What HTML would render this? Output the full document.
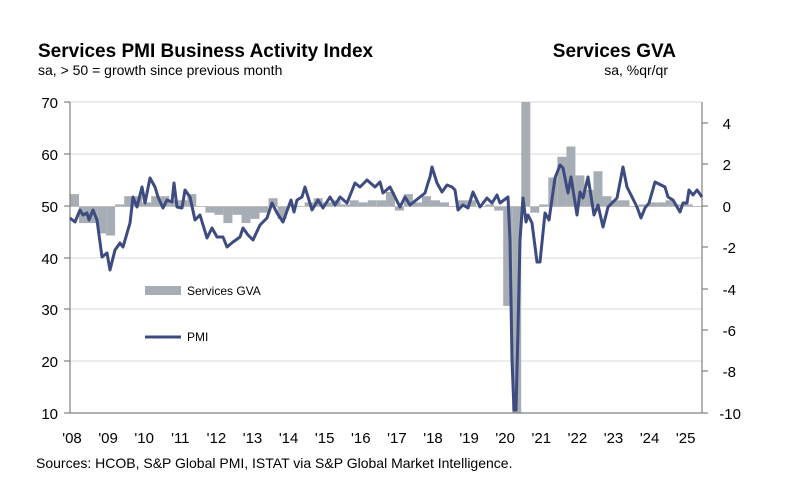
<!DOCTYPE html>
<html><head><meta charset="utf-8"><style>
body{margin:0;background:#fff;width:802px;height:494px;overflow:hidden}
svg{display:block;font-family:"Liberation Sans",Arial,sans-serif}
</style></head><body>
<svg id="s" width="802" height="494" viewBox="0 0 802 494">
<text x="38" y="57" font-size="19" font-weight="bold" fill="#000">Services PMI Business Activity Index</text>
<text x="38" y="75" font-size="14" fill="#000">sa, &gt; 50 = growth since previous month</text>
<text x="676" y="57" font-size="19" font-weight="bold" fill="#000" text-anchor="end">Services GVA</text>
<text x="668" y="75" font-size="14" fill="#000" text-anchor="end">sa, %qr/qr</text>
<g stroke="#d9d9d9" stroke-width="1">
<line x1="70" x2="702" y1="102" y2="102"/><line x1="70" x2="702" y1="154" y2="154"/>
<line x1="70" x2="702" y1="258" y2="258"/><line x1="70" x2="702" y1="309" y2="309"/>
<line x1="70" x2="702" y1="361" y2="361"/>
</g>
<g id="bars" fill="#a6adb4"></g>
<line x1="70" x2="702" y1="206.5" y2="206.5" stroke="#bfbfbf"/>
<g stroke="#808080" stroke-width="1.2">
<line x1="70" x2="70" y1="102" y2="413"/><line x1="70" x2="702" y1="413" y2="413"/>
<line x1="702" x2="702" y1="102" y2="413"/>
<line x1="64" x2="70" y1="102" y2="102"/><line x1="64" x2="70" y1="154" y2="154"/><line x1="64" x2="70" y1="206" y2="206"/><line x1="64" x2="70" y1="258" y2="258"/><line x1="64" x2="70" y1="309" y2="309"/><line x1="64" x2="70" y1="361" y2="361"/><line x1="64" x2="70" y1="413" y2="413"/>
<line x1="702" x2="708" y1="123" y2="123"/><line x1="702" x2="708" y1="164" y2="164"/><line x1="702" x2="708" y1="206" y2="206"/><line x1="702" x2="708" y1="247" y2="247"/><line x1="702" x2="708" y1="289" y2="289"/><line x1="702" x2="708" y1="330" y2="330"/><line x1="702" x2="708" y1="371" y2="371"/><line x1="702" x2="708" y1="413" y2="413"/>
</g>
<g font-size="15" fill="#000" text-anchor="end">
<text x="58" y="108">70</text><text x="58" y="160">60</text><text x="58" y="212">50</text><text x="58" y="264">40</text><text x="58" y="315">30</text><text x="58" y="367">20</text><text x="58" y="419">10</text>
</g>
<g font-size="15" fill="#000" text-anchor="end">
<text x="731" y="129">4</text><text x="731" y="170">2</text><text x="731" y="212">0</text><text x="736" y="253">-2</text><text x="736" y="295">-4</text><text x="736" y="336">-6</text><text x="736" y="377">-8</text><text x="741" y="419">-10</text>
</g>
<g id="xl" font-size="15" fill="#000" text-anchor="middle"></g>
<polyline fill="none" stroke="#3d4b80" stroke-width="3" stroke-linejoin="round" points="70,218 75,222 80,210 83,215 87,213 89,220 93,210 97,220 102,257 107,253 110,270 115,250 120,243 123,247 130,223 133,197 137,207 142,187 145,203 150,178 155,187 158,197 163,208 167,200 172,202 174,183 177,207 182,208 185,190 190,197 195,220 200,215 207,238 212,228 217,237 223,237 227,247 233,242 240,237 243,228 248,235 253,240 260,225 267,218 272,203 277,213 283,222 291,200 294,212 297,200 302,197 305,187 312,210 318,200 323,208 330,197 335,205 340,197 347,203 355,183 360,187 367,180 375,187 380,182 383,193 390,187 400,207 405,197 410,205 420,197 425,193 428,183 430,177 432,167 437,183 442,192 447,185 452,187 455,190 458,210 463,205 468,208 473,192 480,207 487,198 492,203 497,195 500,203 508,197 510,240 512,360 514,410 516,410 518,330 520,240 523,198 526,222 528,215 532,223 537,262 540,262 545,213 549,220 555,178 560,165 563,168 568,193 571,177 577,215 580,192 583,198 588,177 594,215 598,205 603,227 608,207 613,202 617,198 623,167 627,187 632,197 637,207 641,218 645,208 649,203 655,182 665,187 668,197 673,200 680,212 683,203 687,203 689,190 693,195 697,190 702,197"/>
<rect x="145" y="286" width="36" height="9" fill="#a6adb4"/>
<text x="187" y="295" font-size="12" fill="#000">Services GVA</text>
<line x1="145" x2="181" y1="337" y2="337" stroke="#3d4b80" stroke-width="3"/>
<text x="187" y="341" font-size="12" fill="#000">PMI</text>
<text x="36" y="468" font-size="14" fill="#000">Sources: HCOB, S&amp;P Global PMI, ISTAT via S&amp;P Global Market Intelligence.</text>
</svg>
<script>
var v=[0.6,-0.8,-0.8,-1.3,-1.4,0.1,0.5,0.5,0.2,0.5,0.5,0.3,0.3,0.6,0.0,-0.3,-0.4,-0.8,-0.4,-0.8,-0.6,-0.3,0.4,-0.6,0.0,0.0,0.2,0.4,0.2,0.3,0.1,0.3,0.2,0.3,0.3,0.7,-0.2,0.6,0.2,0.5,0.3,0.2,0.0,0.3,0.3,0.0,0.1,-0.2,-4.8,-10,14,-0.3,0.1,1.4,2.4,2.9,1.5,0.8,1.7,0.5,0.3,0.3,0.0,0.1,0.2,0.2,0.3,0.1,0.1,0.0];
var g=document.getElementById('bars'),ns='http://www.w3.org/2000/svg',w=36.1/4,h='';
for(var i=0;i<v.length;i++){var x=70+i*w,y0=206.5,y=206.5-v[i]*20.7;if(y<102)y=102;if(y>413)y=413;
h+='<rect x="'+x.toFixed(1)+'" y="'+Math.min(y,y0).toFixed(1)+'" width="'+w.toFixed(1)+'" height="'+Math.abs(y-y0).toFixed(1)+'"/>';}
g.innerHTML=h;
var xl=document.getElementById('xl'),t='';
for(var k=0;k<18;k++){var yr=(8+k);t+='<text x="'+(72+k*36.1).toFixed(1)+'" y="443">\''+(yr<10?'0':'')+yr+'</text>';}
xl.innerHTML=t;
</script>
</body></html>
